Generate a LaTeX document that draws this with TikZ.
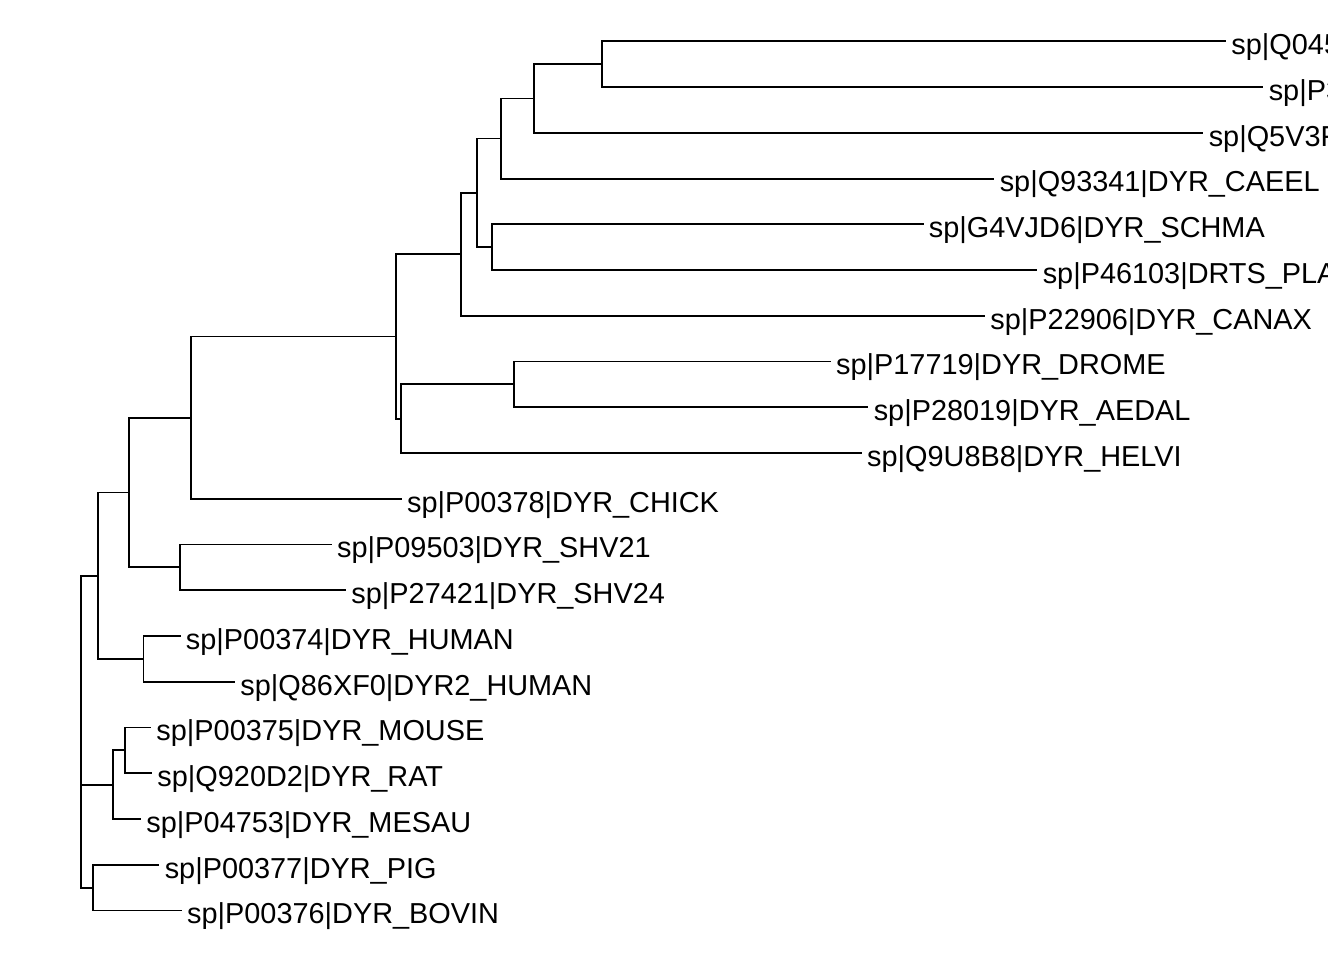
\documentclass[tikz,border=0pt]{standalone}
\usepackage{fontspec}
\setmainfont{Liberation Sans}
\usepackage{tkz-euclide}

\begin{document}
\begin{tikzpicture}[x=0.75pt,y=-0.75pt,
  branch/.style={line width=1.4pt,color=black},
  tiplabel/.style={anchor=base west,inner sep=0pt,xshift=3.9pt,yshift=-9.9pt,
    font=\fontsize{21.65}{25}\selectfont}]
\useasboundingbox (0,0) rectangle (1344,960);

% tips
\tkzDefPoints{1226/41.3/t1,1263.3/87/t2,1203.3/132.8/t3,994.3/178.6/t4,
  923.5/224.3/t5,1037.3/270/t6,985/315.8/t7,830.7/361.5/t8,868.3/407.3/t9,
  861.7/453/t10,401.7/498.8/t11,331.7/544.5/t12,346/590.3/t13,180.5/636/t14,
  235/681.8/t15,151/727.5/t16,152/773.3/t17,141/819/t18,159.3/864.8/t19,
  181.7/910.5/t20}

% inner nodes
\tkzDefPoints{602/64.2/n1,534/98.5/n2,501/138.5/n3,491.7/247.2/n4,
  476.7/192.8/n5,461/254.3/n6,513.7/384.4/n7,401/418.7/n8,395.7/336.5/n9,
  191/417.6/n10,180/567.4/n11,128.7/492.5/n12,143.5/658.9/n13,97.7/575.7/n14,
  125/750.4/n15,112.7/784.7/n16,92.7/887.6/n17,81/731.7/root}

\draw[branch] (n1) |- (t1) (n1) |- (t2);
\draw[branch] (n2) |- (n1) (n2) |- (t3);
\draw[branch] (n3) |- (n2) (n3) |- (t4);
\draw[branch] (n4) |- (t5) (n4) |- (t6);
\draw[branch] (n5) |- (n3) (n5) |- (n4);
\draw[branch] (n6) |- (n5) (n6) |- (t7);
\draw[branch] (n7) |- (t8) (n7) |- (t9);
\draw[branch] (n8) |- (n7) (n8) |- (t10);
\draw[branch] (n9) |- (n6) (n9) |- (n8);
\draw[branch] (n10) |- (n9) (n10) |- (t11);
\draw[branch] (n11) |- (t12) (n11) |- (t13);
\draw[branch] (n12) |- (n10) (n12) |- (n11);
\draw[branch] (n13) |- (t14) (n13) |- (t15);
\draw[branch] (n14) |- (n12) (n14) |- (n13);
\draw[branch] (n15) |- (t16) (n15) |- (t17);
\draw[branch] (n16) |- (n15) (n16) |- (t18);
\draw[branch] (n17) |- (t19) (n17) |- (t20);
\draw[branch] (root) |- (n14) (root) |- (n16) (root) |- (n17);

\begin{scope}
\clip (0,0) rectangle (1327,960);
\node[tiplabel] (l1) at (t1) {sp|Q045};
\node[tiplabel] (l2) at (t2) {sp|P3};
\node[tiplabel] (l3) at (t3) {sp|Q5V3F};
\node[tiplabel] (l4) at (t4) {sp|Q93341|DYR\_CAEEL};
\node[tiplabel] (l5) at (t5) {sp|G4VJD6|DYR\_SCHMA};
\node[tiplabel] (l6) at (t6) {sp|P46103|DRTS\_PLA};
\node[tiplabel] (l7) at (t7) {sp|P22906|DYR\_CANAX};
\node[tiplabel] (l8) at (t8) {sp|P17719|DYR\_DROME};
\node[tiplabel] (l9) at (t9) {sp|P28019|DYR\_AEDAL};
\node[tiplabel] (l10) at (t10) {sp|Q9U8B8|DYR\_HELVI};
\node[tiplabel] (l11) at (t11) {sp|P00378|DYR\_CHICK};
\node[tiplabel] (l12) at (t12) {sp|P09503|DYR\_SHV21};
\node[tiplabel] (l13) at (t13) {sp|P27421|DYR\_SHV24};
\node[tiplabel] (l14) at (t14) {sp|P00374|DYR\_HUMAN};
\node[tiplabel] (l15) at (t15) {sp|Q86XF0|DYR2\_HUMAN};
\node[tiplabel] (l16) at (t16) {sp|P00375|DYR\_MOUSE};
\node[tiplabel] (l17) at (t17) {sp|Q920D2|DYR\_RAT};
\node[tiplabel] (l18) at (t18) {sp|P04753|DYR\_MESAU};
\node[tiplabel] (l19) at (t19) {sp|P00377|DYR\_PIG};
\node[tiplabel] (l20) at (t20) {sp|P00376|DYR\_BOVIN};
\end{scope}

\end{tikzpicture}
\end{document}
